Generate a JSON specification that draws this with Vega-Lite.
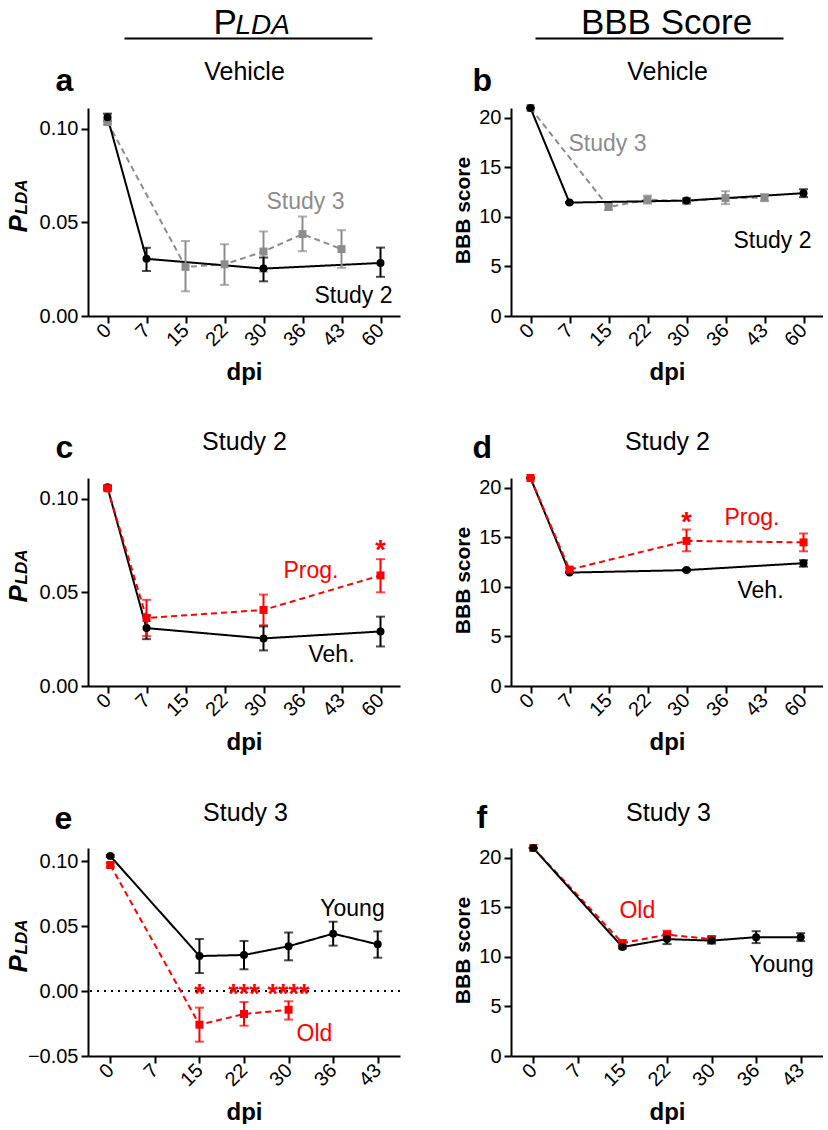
{
"$schema": "https://vega.github.io/schema/vega-lite/v6.json",
"background": "white",
"padding": {"left": 5, "top": 5, "right": 0, "bottom": 0},
"config": {
  "font": "Liberation Sans",
  "view": {"stroke": null},
  "axis": {"grid": false, "domainColor": "#000000", "domainWidth": 2, "tickColor": "#000000", "tickWidth": 2, "tickSize": 7, "labelFont": "Liberation Sans", "labelFontSize": 20, "labelColor": "#000000", "titleFont": "Liberation Sans", "titleColor": "#000000", "labelPadding": 3}
},
"datasets": {
  "a": [
    {"series": "Study 3", "dpi": 0, "mean": 0.1035, "lo": 0.1025, "hi": 0.1045},
    {"series": "Study 3", "dpi": 15, "mean": 0.0262, "lo": 0.0132, "hi": 0.0400},
    {"series": "Study 3", "dpi": 22, "mean": 0.0276, "lo": 0.0166, "hi": 0.0383},
    {"series": "Study 3", "dpi": 30, "mean": 0.0344, "lo": 0.0237, "hi": 0.0451},
    {"series": "Study 3", "dpi": 36, "mean": 0.0437, "lo": 0.0346, "hi": 0.0531},
    {"series": "Study 3", "dpi": 43, "mean": 0.0357, "lo": 0.0257, "hi": 0.0458},
    {"series": "Study 2", "dpi": 0, "mean": 0.106, "lo": 0.104, "hi": 0.108},
    {"series": "Study 2", "dpi": 7, "mean": 0.0305, "lo": 0.024, "hi": 0.0364},
    {"series": "Study 2", "dpi": 30, "mean": 0.0253, "lo": 0.0185, "hi": 0.0312},
    {"series": "Study 2", "dpi": 60, "mean": 0.0283, "lo": 0.0209, "hi": 0.0365}
  ],
  "b": [
    {"series": "Study 3", "dpi": 0, "mean": 21.0, "lo": 21.0, "hi": 21.0},
    {"series": "Study 3", "dpi": 15, "mean": 11.0, "lo": 10.7, "hi": 11.3},
    {"series": "Study 3", "dpi": 22, "mean": 11.75, "lo": 11.35, "hi": 12.15},
    {"series": "Study 3", "dpi": 30, "mean": 11.6, "lo": 11.35, "hi": 11.85},
    {"series": "Study 3", "dpi": 36, "mean": 11.9, "lo": 11.3, "hi": 12.6},
    {"series": "Study 3", "dpi": 43, "mean": 11.95, "lo": 11.6, "hi": 12.3},
    {"series": "Study 2", "dpi": 0, "mean": 21.0, "lo": 21.0, "hi": 21.0},
    {"series": "Study 2", "dpi": 7, "mean": 11.45, "lo": 11.4, "hi": 11.5},
    {"series": "Study 2", "dpi": 30, "mean": 11.65, "lo": 11.45, "hi": 11.85},
    {"series": "Study 2", "dpi": 60, "mean": 12.4, "lo": 12.0, "hi": 12.8}
  ],
  "c": [
    {"series": "Veh", "dpi": 0, "mean": 0.106, "lo": 0.105, "hi": 0.107},
    {"series": "Veh", "dpi": 7, "mean": 0.0309, "lo": 0.025, "hi": 0.0376},
    {"series": "Veh", "dpi": 30, "mean": 0.0254, "lo": 0.019, "hi": 0.0318},
    {"series": "Veh", "dpi": 60, "mean": 0.0291, "lo": 0.0211, "hi": 0.037},
    {"series": "Prog", "dpi": 0, "mean": 0.1055, "lo": 0.1045, "hi": 0.1065},
    {"series": "Prog", "dpi": 7, "mean": 0.0363, "lo": 0.0266, "hi": 0.046},
    {"series": "Prog", "dpi": 30, "mean": 0.0406, "lo": 0.0324, "hi": 0.0488},
    {"series": "Prog", "dpi": 60, "mean": 0.059, "lo": 0.050, "hi": 0.0677}
  ],
  "d": [
    {"series": "Veh", "dpi": 0, "mean": 21.0, "lo": 21.0, "hi": 21.0},
    {"series": "Veh", "dpi": 7, "mean": 11.45, "lo": 11.4, "hi": 11.5},
    {"series": "Veh", "dpi": 30, "mean": 11.7, "lo": 11.6, "hi": 11.8},
    {"series": "Veh", "dpi": 60, "mean": 12.4, "lo": 12.05, "hi": 12.7},
    {"series": "Prog", "dpi": 0, "mean": 21.0, "lo": 21.0, "hi": 21.0},
    {"series": "Prog", "dpi": 7, "mean": 11.75, "lo": 11.55, "hi": 11.95},
    {"series": "Prog", "dpi": 30, "mean": 14.65, "lo": 13.6, "hi": 15.8},
    {"series": "Prog", "dpi": 60, "mean": 14.5, "lo": 13.6, "hi": 15.4}
  ],
  "e": [
    {"series": "Young", "dpi": 0, "mean": 0.1038, "lo": 0.1030, "hi": 0.1046},
    {"series": "Young", "dpi": 15, "mean": 0.0269, "lo": 0.0138, "hi": 0.040},
    {"series": "Young", "dpi": 22, "mean": 0.0277, "lo": 0.0167, "hi": 0.0385},
    {"series": "Young", "dpi": 30, "mean": 0.0344, "lo": 0.0236, "hi": 0.045},
    {"series": "Young", "dpi": 36, "mean": 0.0441, "lo": 0.0349, "hi": 0.0533},
    {"series": "Young", "dpi": 43, "mean": 0.0359, "lo": 0.0256, "hi": 0.0459},
    {"series": "Old", "dpi": 0, "mean": 0.0969, "lo": 0.0955, "hi": 0.0983},
    {"series": "Old", "dpi": 15, "mean": -0.0259, "lo": -0.039, "hi": -0.0128},
    {"series": "Old", "dpi": 22, "mean": -0.0177, "lo": -0.0267, "hi": -0.0085},
    {"series": "Old", "dpi": 30, "mean": -0.0144, "lo": -0.022, "hi": -0.0079}
  ],
  "f": [
    {"series": "Old", "dpi": 0, "mean": 21.0, "lo": 21.0, "hi": 21.0},
    {"series": "Old", "dpi": 15, "mean": 11.4, "lo": 11.1, "hi": 11.7},
    {"series": "Old", "dpi": 22, "mean": 12.25, "lo": 11.85, "hi": 12.65},
    {"series": "Old", "dpi": 30, "mean": 11.8, "lo": 11.5, "hi": 12.1},
    {"series": "Young", "dpi": 0, "mean": 21.0, "lo": 21.0, "hi": 21.0},
    {"series": "Young", "dpi": 15, "mean": 11.0, "lo": 10.85, "hi": 11.15},
    {"series": "Young", "dpi": 22, "mean": 11.8, "lo": 11.3, "hi": 12.3},
    {"series": "Young", "dpi": 30, "mean": 11.65, "lo": 11.35, "hi": 11.95},
    {"series": "Young", "dpi": 36, "mean": 12.0, "lo": 11.4, "hi": 12.6},
    {"series": "Young", "dpi": 43, "mean": 12.0, "lo": 11.6, "hi": 12.4}
  ],
  "aA": [
    {"series": "Study 3", "dpi": 36, "v": 0.0572, "label": "Study 3"},
    {"series": "Study 2", "dpi": 60, "v": 0.007, "label": "Study 2"}
  ],
  "bA": [
    {"series": "Study 3", "dpi": 15, "v": 16.7, "label": "Study 3"},
    {"series": "Study 2", "dpi": 60, "v": 6.9, "label": "Study 2"}
  ],
  "cA": [
    {"series": "Prog", "dpi": 43, "v": 0.0574, "label": "Prog."},
    {"series": "Veh", "dpi": 43, "v": 0.0128, "label": "Veh."},
    {"series": "Prog", "dpi": 60, "v": 0.068, "label": "*"}
  ],
  "dA": [
    {"series": "Prog", "dpi": 36, "v": 16.3, "label": "Prog."},
    {"series": "Veh", "dpi": 43, "v": 8.9, "label": "Veh."},
    {"series": "Prog", "dpi": 30, "v": 15.6, "label": "*"}
  ],
  "eA": [
    {"series": "Young", "dpi": 43, "v": 0.0577, "label": "Young"},
    {"series": "Old", "dpi": 30, "v": -0.0385, "label": "Old"},
    {"series": "Old", "dpi": 15, "v": -0.0092, "label": "*"},
    {"series": "Old", "dpi": 22, "v": -0.0092, "label": "***"},
    {"series": "Old", "dpi": 30, "v": -0.0092, "label": "****"}
  ],
  "fA": [
    {"series": "Old", "dpi": 15, "v": 13.9, "label": "Old"},
    {"series": "Young", "dpi": 43, "v": 8.5, "label": "Young"}
  ]
},
"columns": 2,
"bounds": "flush",
"spacing": {"row": 162, "column": 111},
"concat": [
{
  "width": 312, "height": 208,
  "layer": [
    {"data": {"name": "a"}, "mark": {"type": "line", "strokeWidth": 2},
     "encoding": {
       "x": {"field": "dpi", "type": "ordinal", "scale": {"type": "point", "domain": [0,7,15,22,30,36,43,60], "padding": 0.5},
             "axis": {"orient": "bottom", "labelAngle": -45, "labelAlign": "right", "labelBaseline": "middle", "labelPadding": 4, "labelOverlap": false, "title": "dpi", "titleFontSize": 24, "titleFontWeight": "bold", "titleX": 156, "titleY": 63, "titleAlign": "center", "titleBaseline": "alphabetic", "titleAngle": 0}},
       "y": {"field": "mean", "type": "quantitative", "scale": {"domain": [0, 0.111], "nice": false, "zero": false},
             "axis": {"orient": "left", "values": [0, 0.05, 0.1], "format": ".2f", "title": "P", "titleFontSize": 26, "titleFontStyle": "italic", "titleFontWeight": "bold", "titleX": -62, "titleY": 124, "titleAngle": 270, "titleAlign": "left", "titleBaseline": "alphabetic"}},
       "detail": {"field": "series"},
       "color": {"condition": [{"test": "datum.series==='Study 3'", "value": "#8c8c8c"}, {"test": "datum.series==='Prog'||datum.series==='Old'", "value": "#ff0000"}], "value": "#000000"},
       "strokeDash": {"condition": {"test": "datum.series==='Study 3'||datum.series==='Prog'||datum.series==='Old'", "value": [6, 4]}, "value": [1, 0]}
     }},
    {"data": {"name": "a"}, "mark": {"type": "rule", "strokeWidth": 2},
     "encoding": {
       "x": {"field": "dpi", "type": "ordinal", "scale": {"type": "point", "domain": [0,7,15,22,30,36,43,60], "padding": 0.5},
             "axis": {"orient": "top", "domain": false, "ticks": false, "labels": false, "grid": false, "title": "Vehicle", "titleFontSize": 25, "titleFontWeight": "normal", "titleX": 156, "titleY": -29, "titleAlign": "center", "titleBaseline": "alphabetic", "titleAngle": 0}},
       "y": {"field": "lo", "type": "quantitative", "scale": {"domain": [0, 0.111], "nice": false, "zero": false}, "axis": null},
       "y2": {"field": "hi"},
       "color": {"condition": [{"test": "datum.series==='Study 3'", "value": "#8c8c8c"}, {"test": "datum.series==='Prog'||datum.series==='Old'", "value": "#ff0000"}], "value": "#000000"}
     }},
    {"data": {"name": "a"}, "mark": {"type": "tick", "thickness": 2, "size": 9},
     "encoding": {
       "x": {"field": "dpi", "type": "ordinal", "scale": {"type": "point", "domain": [0,7,15,22,30,36,43,60], "padding": 0.5}, "axis": null},
       "y": {"field": "lo", "type": "quantitative", "scale": {"domain": [0, 0.111], "nice": false, "zero": false}, "axis": null},
       "color": {"condition": [{"test": "datum.series==='Study 3'", "value": "#8c8c8c"}, {"test": "datum.series==='Prog'||datum.series==='Old'", "value": "#ff0000"}], "value": "#000000"}
     }},
    {"data": {"name": "a"}, "mark": {"type": "tick", "thickness": 2, "size": 9},
     "encoding": {
       "x": {"field": "dpi", "type": "ordinal", "scale": {"type": "point", "domain": [0,7,15,22,30,36,43,60], "padding": 0.5}, "axis": null},
       "y": {"field": "hi", "type": "quantitative", "scale": {"domain": [0, 0.111], "nice": false, "zero": false}, "axis": null},
       "color": {"condition": [{"test": "datum.series==='Study 3'", "value": "#8c8c8c"}, {"test": "datum.series==='Prog'||datum.series==='Old'", "value": "#ff0000"}], "value": "#000000"}
     }},
    {"data": {"name": "a"}, "mark": {"type": "point", "filled": true, "size": 64, "opacity": 1},
     "encoding": {
       "x": {"field": "dpi", "type": "ordinal", "scale": {"type": "point", "domain": [0,7,15,22,30,36,43,60], "padding": 0.5}, "axis": null},
       "y": {"field": "mean", "type": "quantitative", "scale": {"domain": [0, 0.111], "nice": false, "zero": false}, "axis": null},
       "color": {"condition": [{"test": "datum.series==='Study 3'", "value": "#8c8c8c"}, {"test": "datum.series==='Prog'||datum.series==='Old'", "value": "#ff0000"}], "value": "#000000"},
       "shape": {"condition": {"test": "datum.series==='Study 2'||datum.series==='Veh'||datum.series==='Young'", "value": "circle"}, "value": "square"}
     }},
    {"data": {"name": "aA"}, "transform": [{"filter": {"field": "label", "equal": "Study 3"}}],
     "mark": {"type": "text", "fontSize": 23, "align": "center", "baseline": "alphabetic", "dx": 3},
     "encoding": {
       "x": {"field": "dpi", "type": "ordinal", "scale": {"type": "point", "domain": [0,7,15,22,30,36,43,60], "padding": 0.5},
             "axis": {"orient": "top", "offset": 70, "domain": true, "domainDash": [0, 36, 248, 2000], "domainWidth": 2, "ticks": false, "labels": false, "grid": false, "title": "P", "titleFontSize": 35, "titleFontWeight": "normal", "titleX": 125, "titleY": -5, "titleAlign": "left", "titleBaseline": "alphabetic", "titleAngle": 0}},
       "y": {"field": "v", "type": "quantitative", "scale": {"domain": [0, 0.111], "nice": false, "zero": false},
             "axis": {"orient": "right", "domain": false, "ticks": false, "labels": false, "grid": false, "title": "a", "titleFontSize": 32, "titleFontWeight": "bold", "titleX": -345, "titleY": -18, "titleAlign": "left", "titleBaseline": "alphabetic", "titleAngle": 0}},
       "text": {"field": "label"},
       "color": {"condition": [{"test": "datum.series==='Study 3'", "value": "#8c8c8c"}, {"test": "datum.series==='Prog'||datum.series==='Old'", "value": "#ff0000"}], "value": "#000000"}
     }},
    {"data": {"name": "aA"}, "transform": [{"filter": {"field": "label", "equal": "Study 2"}}],
     "mark": {"type": "text", "fontSize": 23, "align": "right", "baseline": "alphabetic", "dx": 12},
     "encoding": {
       "x": {"field": "dpi", "type": "ordinal", "scale": {"type": "point", "domain": [0,7,15,22,30,36,43,60], "padding": 0.5},
             "axis": {"orient": "top", "domain": false, "ticks": false, "labels": false, "grid": false, "title": "LDA", "titleFontSize": 28, "titleFontStyle": "italic", "titleFontWeight": "normal", "titleX": 147, "titleY": -75, "titleAlign": "left", "titleBaseline": "alphabetic", "titleAngle": 0}},
       "y": {"field": "v", "type": "quantitative", "scale": {"domain": [0, 0.111], "nice": false, "zero": false},
             "axis": {"orient": "right", "domain": false, "ticks": false, "labels": false, "grid": false, "title": "LDA", "titleFontSize": 17, "titleFontStyle": "italic", "titleFontWeight": "bold", "titleX": -374, "titleY": 106, "titleAngle": 270, "titleAlign": "left", "titleBaseline": "alphabetic"}},
       "text": {"field": "label"},
       "color": {"condition": [{"test": "datum.series==='Study 3'", "value": "#8c8c8c"}, {"test": "datum.series==='Prog'||datum.series==='Old'", "value": "#ff0000"}], "value": "#000000"}
     }}
  ]
},
{
  "width": 312, "height": 208,
  "layer": [
    {"data": {"name": "b"}, "mark": {"type": "line", "strokeWidth": 2},
     "encoding": {
       "x": {"field": "dpi", "type": "ordinal", "scale": {"type": "point", "domain": [0,7,15,22,30,36,43,60], "padding": 0.5},
             "axis": {"orient": "bottom", "labelAngle": -45, "labelAlign": "right", "labelBaseline": "middle", "labelPadding": 4, "labelOverlap": false, "title": "dpi", "titleFontSize": 24, "titleFontWeight": "bold", "titleX": 156, "titleY": 63, "titleAlign": "center", "titleBaseline": "alphabetic", "titleAngle": 0}},
       "y": {"field": "mean", "type": "quantitative", "scale": {"domain": [0, 21], "nice": false, "zero": false},
             "axis": {"orient": "left", "values": [0, 5, 10, 15, 20], "title": "BBB score", "titleFontSize": 21, "titleFontWeight": "bold", "titleX": -42, "titleY": 102, "titleAngle": 270, "titleAlign": "center", "titleBaseline": "alphabetic"}},
       "detail": {"field": "series"},
       "color": {"condition": [{"test": "datum.series==='Study 3'", "value": "#8c8c8c"}, {"test": "datum.series==='Prog'||datum.series==='Old'", "value": "#ff0000"}], "value": "#000000"},
       "strokeDash": {"condition": {"test": "datum.series==='Study 3'||datum.series==='Prog'||datum.series==='Old'", "value": [6, 4]}, "value": [1, 0]}
     }},
    {"data": {"name": "b"}, "mark": {"type": "rule", "strokeWidth": 2},
     "encoding": {
       "x": {"field": "dpi", "type": "ordinal", "scale": {"type": "point", "domain": [0,7,15,22,30,36,43,60], "padding": 0.5},
             "axis": {"orient": "top", "domain": false, "ticks": false, "labels": false, "grid": false, "title": "Vehicle", "titleFontSize": 25, "titleFontWeight": "normal", "titleX": 156, "titleY": -29, "titleAlign": "center", "titleBaseline": "alphabetic", "titleAngle": 0}},
       "y": {"field": "lo", "type": "quantitative", "scale": {"domain": [0, 21], "nice": false, "zero": false}, "axis": null},
       "y2": {"field": "hi"},
       "color": {"condition": [{"test": "datum.series==='Study 3'", "value": "#8c8c8c"}, {"test": "datum.series==='Prog'||datum.series==='Old'", "value": "#ff0000"}], "value": "#000000"}
     }},
    {"data": {"name": "b"}, "mark": {"type": "tick", "thickness": 2, "size": 9},
     "encoding": {
       "x": {"field": "dpi", "type": "ordinal", "scale": {"type": "point", "domain": [0,7,15,22,30,36,43,60], "padding": 0.5}, "axis": null},
       "y": {"field": "lo", "type": "quantitative", "scale": {"domain": [0, 21], "nice": false, "zero": false}, "axis": null},
       "color": {"condition": [{"test": "datum.series==='Study 3'", "value": "#8c8c8c"}, {"test": "datum.series==='Prog'||datum.series==='Old'", "value": "#ff0000"}], "value": "#000000"}
     }},
    {"data": {"name": "b"}, "mark": {"type": "tick", "thickness": 2, "size": 9},
     "encoding": {
       "x": {"field": "dpi", "type": "ordinal", "scale": {"type": "point", "domain": [0,7,15,22,30,36,43,60], "padding": 0.5}, "axis": null},
       "y": {"field": "hi", "type": "quantitative", "scale": {"domain": [0, 21], "nice": false, "zero": false}, "axis": null},
       "color": {"condition": [{"test": "datum.series==='Study 3'", "value": "#8c8c8c"}, {"test": "datum.series==='Prog'||datum.series==='Old'", "value": "#ff0000"}], "value": "#000000"}
     }},
    {"data": {"name": "b"}, "mark": {"type": "point", "filled": true, "size": 64, "opacity": 1},
     "encoding": {
       "x": {"field": "dpi", "type": "ordinal", "scale": {"type": "point", "domain": [0,7,15,22,30,36,43,60], "padding": 0.5}, "axis": null},
       "y": {"field": "mean", "type": "quantitative", "scale": {"domain": [0, 21], "nice": false, "zero": false}, "axis": null},
       "color": {"condition": [{"test": "datum.series==='Study 3'", "value": "#8c8c8c"}, {"test": "datum.series==='Prog'||datum.series==='Old'", "value": "#ff0000"}], "value": "#000000"},
       "shape": {"condition": {"test": "datum.series==='Study 2'||datum.series==='Veh'||datum.series==='Young'", "value": "circle"}, "value": "square"}
     }},
    {"data": {"name": "bA"}, "transform": [{"filter": {"field": "label", "equal": "Study 3"}}],
     "mark": {"type": "text", "fontSize": 23, "align": "center", "baseline": "alphabetic", "dx": -1},
     "encoding": {
       "x": {"field": "dpi", "type": "ordinal", "scale": {"type": "point", "domain": [0,7,15,22,30,36,43,60], "padding": 0.5},
             "axis": {"orient": "top", "offset": 70, "domain": true, "domainDash": [0, 24, 248, 2000], "domainWidth": 2, "ticks": false, "labels": false, "grid": false, "title": "BBB Score", "titleFontSize": 35, "titleFontWeight": "normal", "titleX": 155, "titleY": -5, "titleAlign": "center", "titleBaseline": "alphabetic", "titleAngle": 0}},
       "y": {"field": "v", "type": "quantitative", "scale": {"domain": [0, 21], "nice": false, "zero": false},
             "axis": {"orient": "right", "domain": false, "ticks": false, "labels": false, "grid": false, "title": "b", "titleFontSize": 32, "titleFontWeight": "bold", "titleX": -351, "titleY": -18, "titleAlign": "left", "titleBaseline": "alphabetic", "titleAngle": 0}},
       "text": {"field": "label"},
       "color": {"condition": [{"test": "datum.series==='Study 3'", "value": "#8c8c8c"}, {"test": "datum.series==='Prog'||datum.series==='Old'", "value": "#ff0000"}], "value": "#000000"}
     }},
    {"data": {"name": "bA"}, "transform": [{"filter": {"field": "label", "equal": "Study 2"}}],
     "mark": {"type": "text", "fontSize": 23, "align": "right", "baseline": "alphabetic", "dx": 8},
     "encoding": {
       "x": {"field": "dpi", "type": "ordinal", "scale": {"type": "point", "domain": [0,7,15,22,30,36,43,60], "padding": 0.5}, "axis": null},
       "y": {"field": "v", "type": "quantitative", "scale": {"domain": [0, 21], "nice": false, "zero": false}, "axis": null},
       "text": {"field": "label"},
       "color": {"condition": [{"test": "datum.series==='Study 3'", "value": "#8c8c8c"}, {"test": "datum.series==='Prog'||datum.series==='Old'", "value": "#ff0000"}], "value": "#000000"}
     }}
  ]
},
{
  "width": 312, "height": 208,
  "layer": [
    {"data": {"name": "c"}, "mark": {"type": "line", "strokeWidth": 2},
     "encoding": {
       "x": {"field": "dpi", "type": "ordinal", "scale": {"type": "point", "domain": [0,7,15,22,30,36,43,60], "padding": 0.5},
             "axis": {"orient": "bottom", "labelAngle": -45, "labelAlign": "right", "labelBaseline": "middle", "labelPadding": 4, "labelOverlap": false, "title": "dpi", "titleFontSize": 24, "titleFontWeight": "bold", "titleX": 156, "titleY": 63, "titleAlign": "center", "titleBaseline": "alphabetic", "titleAngle": 0}},
       "y": {"field": "mean", "type": "quantitative", "scale": {"domain": [0, 0.111], "nice": false, "zero": false},
             "axis": {"orient": "left", "values": [0, 0.05, 0.1], "format": ".2f", "title": "P", "titleFontSize": 26, "titleFontStyle": "italic", "titleFontWeight": "bold", "titleX": -62, "titleY": 124, "titleAngle": 270, "titleAlign": "left", "titleBaseline": "alphabetic"}},
       "detail": {"field": "series"},
       "color": {"condition": [{"test": "datum.series==='Study 3'", "value": "#8c8c8c"}, {"test": "datum.series==='Prog'||datum.series==='Old'", "value": "#ff0000"}], "value": "#000000"},
       "strokeDash": {"condition": {"test": "datum.series==='Study 3'||datum.series==='Prog'||datum.series==='Old'", "value": [6, 4]}, "value": [1, 0]}
     }},
    {"data": {"name": "c"}, "mark": {"type": "rule", "strokeWidth": 2},
     "encoding": {
       "x": {"field": "dpi", "type": "ordinal", "scale": {"type": "point", "domain": [0,7,15,22,30,36,43,60], "padding": 0.5},
             "axis": {"orient": "top", "domain": false, "ticks": false, "labels": false, "grid": false, "title": "Study 2", "titleFontSize": 25, "titleFontWeight": "normal", "titleX": 156, "titleY": -29, "titleAlign": "center", "titleBaseline": "alphabetic", "titleAngle": 0}},
       "y": {"field": "lo", "type": "quantitative", "scale": {"domain": [0, 0.111], "nice": false, "zero": false}, "axis": null},
       "y2": {"field": "hi"},
       "color": {"condition": [{"test": "datum.series==='Study 3'", "value": "#8c8c8c"}, {"test": "datum.series==='Prog'||datum.series==='Old'", "value": "#ff0000"}], "value": "#000000"}
     }},
    {"data": {"name": "c"}, "mark": {"type": "tick", "thickness": 2, "size": 9},
     "encoding": {
       "x": {"field": "dpi", "type": "ordinal", "scale": {"type": "point", "domain": [0,7,15,22,30,36,43,60], "padding": 0.5}, "axis": null},
       "y": {"field": "lo", "type": "quantitative", "scale": {"domain": [0, 0.111], "nice": false, "zero": false}, "axis": null},
       "color": {"condition": [{"test": "datum.series==='Study 3'", "value": "#8c8c8c"}, {"test": "datum.series==='Prog'||datum.series==='Old'", "value": "#ff0000"}], "value": "#000000"}
     }},
    {"data": {"name": "c"}, "mark": {"type": "tick", "thickness": 2, "size": 9},
     "encoding": {
       "x": {"field": "dpi", "type": "ordinal", "scale": {"type": "point", "domain": [0,7,15,22,30,36,43,60], "padding": 0.5}, "axis": null},
       "y": {"field": "hi", "type": "quantitative", "scale": {"domain": [0, 0.111], "nice": false, "zero": false}, "axis": null},
       "color": {"condition": [{"test": "datum.series==='Study 3'", "value": "#8c8c8c"}, {"test": "datum.series==='Prog'||datum.series==='Old'", "value": "#ff0000"}], "value": "#000000"}
     }},
    {"data": {"name": "c"}, "mark": {"type": "point", "filled": true, "size": 64, "opacity": 1},
     "encoding": {
       "x": {"field": "dpi", "type": "ordinal", "scale": {"type": "point", "domain": [0,7,15,22,30,36,43,60], "padding": 0.5}, "axis": null},
       "y": {"field": "mean", "type": "quantitative", "scale": {"domain": [0, 0.111], "nice": false, "zero": false}, "axis": null},
       "color": {"condition": [{"test": "datum.series==='Study 3'", "value": "#8c8c8c"}, {"test": "datum.series==='Prog'||datum.series==='Old'", "value": "#ff0000"}], "value": "#000000"},
       "shape": {"condition": {"test": "datum.series==='Study 2'||datum.series==='Veh'||datum.series==='Young'", "value": "circle"}, "value": "square"}
     }},
    {"data": {"name": "cA"}, "transform": [{"filter": {"field": "label", "equal": "Prog."}}],
     "mark": {"type": "text", "fontSize": 23, "align": "right", "baseline": "alphabetic", "dx": -3},
     "encoding": {
       "x": {"field": "dpi", "type": "ordinal", "scale": {"type": "point", "domain": [0,7,15,22,30,36,43,60], "padding": 0.5}, "axis": null},
       "y": {"field": "v", "type": "quantitative", "scale": {"domain": [0, 0.111], "nice": false, "zero": false},
             "axis": {"orient": "right", "domain": false, "ticks": false, "labels": false, "grid": false, "title": "c", "titleFontSize": 32, "titleFontWeight": "bold", "titleX": -345, "titleY": -21, "titleAlign": "left", "titleBaseline": "alphabetic", "titleAngle": 0}},
       "text": {"field": "label"},
       "color": {"condition": [{"test": "datum.series==='Study 3'", "value": "#8c8c8c"}, {"test": "datum.series==='Prog'||datum.series==='Old'", "value": "#ff0000"}], "value": "#000000"}
     }},
    {"data": {"name": "cA"}, "transform": [{"filter": {"field": "label", "equal": "Veh."}}],
     "mark": {"type": "text", "fontSize": 23, "align": "center", "baseline": "alphabetic", "dx": -10},
     "encoding": {
       "x": {"field": "dpi", "type": "ordinal", "scale": {"type": "point", "domain": [0,7,15,22,30,36,43,60], "padding": 0.5}, "axis": null},
       "y": {"field": "v", "type": "quantitative", "scale": {"domain": [0, 0.111], "nice": false, "zero": false},
             "axis": {"orient": "right", "domain": false, "ticks": false, "labels": false, "grid": false, "title": "LDA", "titleFontSize": 17, "titleFontStyle": "italic", "titleFontWeight": "bold", "titleX": -374, "titleY": 106, "titleAngle": 270, "titleAlign": "left", "titleBaseline": "alphabetic"}},
       "text": {"field": "label"},
       "color": {"condition": [{"test": "datum.series==='Study 3'", "value": "#8c8c8c"}, {"test": "datum.series==='Prog'||datum.series==='Old'", "value": "#ff0000"}], "value": "#000000"}
     }},
    {"data": {"name": "cA"}, "transform": [{"filter": {"field": "label", "equal": "*"}}],
     "mark": {"type": "text", "fontSize": 27, "fontWeight": "bold", "align": "center", "baseline": "alphabetic"},
     "encoding": {
       "x": {"field": "dpi", "type": "ordinal", "scale": {"type": "point", "domain": [0,7,15,22,30,36,43,60], "padding": 0.5}, "axis": null},
       "y": {"field": "v", "type": "quantitative", "scale": {"domain": [0, 0.111], "nice": false, "zero": false}, "axis": null},
       "text": {"field": "label"},
       "color": {"condition": [{"test": "datum.series==='Study 3'", "value": "#8c8c8c"}, {"test": "datum.series==='Prog'||datum.series==='Old'", "value": "#ff0000"}], "value": "#000000"}
     }}
  ]
},
{
  "width": 312, "height": 208,
  "layer": [
    {"data": {"name": "d"}, "mark": {"type": "line", "strokeWidth": 2},
     "encoding": {
       "x": {"field": "dpi", "type": "ordinal", "scale": {"type": "point", "domain": [0,7,15,22,30,36,43,60], "padding": 0.5},
             "axis": {"orient": "bottom", "labelAngle": -45, "labelAlign": "right", "labelBaseline": "middle", "labelPadding": 4, "labelOverlap": false, "title": "dpi", "titleFontSize": 24, "titleFontWeight": "bold", "titleX": 156, "titleY": 63, "titleAlign": "center", "titleBaseline": "alphabetic", "titleAngle": 0}},
       "y": {"field": "mean", "type": "quantitative", "scale": {"domain": [0, 21], "nice": false, "zero": false},
             "axis": {"orient": "left", "values": [0, 5, 10, 15, 20], "title": "BBB score", "titleFontSize": 21, "titleFontWeight": "bold", "titleX": -42, "titleY": 102, "titleAngle": 270, "titleAlign": "center", "titleBaseline": "alphabetic"}},
       "detail": {"field": "series"},
       "color": {"condition": [{"test": "datum.series==='Study 3'", "value": "#8c8c8c"}, {"test": "datum.series==='Prog'||datum.series==='Old'", "value": "#ff0000"}], "value": "#000000"},
       "strokeDash": {"condition": {"test": "datum.series==='Study 3'||datum.series==='Prog'||datum.series==='Old'", "value": [6, 4]}, "value": [1, 0]}
     }},
    {"data": {"name": "d"}, "mark": {"type": "rule", "strokeWidth": 2},
     "encoding": {
       "x": {"field": "dpi", "type": "ordinal", "scale": {"type": "point", "domain": [0,7,15,22,30,36,43,60], "padding": 0.5},
             "axis": {"orient": "top", "domain": false, "ticks": false, "labels": false, "grid": false, "title": "Study 2", "titleFontSize": 25, "titleFontWeight": "normal", "titleX": 156, "titleY": -29, "titleAlign": "center", "titleBaseline": "alphabetic", "titleAngle": 0}},
       "y": {"field": "lo", "type": "quantitative", "scale": {"domain": [0, 21], "nice": false, "zero": false}, "axis": null},
       "y2": {"field": "hi"},
       "color": {"condition": [{"test": "datum.series==='Study 3'", "value": "#8c8c8c"}, {"test": "datum.series==='Prog'||datum.series==='Old'", "value": "#ff0000"}], "value": "#000000"}
     }},
    {"data": {"name": "d"}, "mark": {"type": "tick", "thickness": 2, "size": 9},
     "encoding": {
       "x": {"field": "dpi", "type": "ordinal", "scale": {"type": "point", "domain": [0,7,15,22,30,36,43,60], "padding": 0.5}, "axis": null},
       "y": {"field": "lo", "type": "quantitative", "scale": {"domain": [0, 21], "nice": false, "zero": false}, "axis": null},
       "color": {"condition": [{"test": "datum.series==='Study 3'", "value": "#8c8c8c"}, {"test": "datum.series==='Prog'||datum.series==='Old'", "value": "#ff0000"}], "value": "#000000"}
     }},
    {"data": {"name": "d"}, "mark": {"type": "tick", "thickness": 2, "size": 9},
     "encoding": {
       "x": {"field": "dpi", "type": "ordinal", "scale": {"type": "point", "domain": [0,7,15,22,30,36,43,60], "padding": 0.5}, "axis": null},
       "y": {"field": "hi", "type": "quantitative", "scale": {"domain": [0, 21], "nice": false, "zero": false}, "axis": null},
       "color": {"condition": [{"test": "datum.series==='Study 3'", "value": "#8c8c8c"}, {"test": "datum.series==='Prog'||datum.series==='Old'", "value": "#ff0000"}], "value": "#000000"}
     }},
    {"data": {"name": "d"}, "mark": {"type": "point", "filled": true, "size": 64, "opacity": 1},
     "encoding": {
       "x": {"field": "dpi", "type": "ordinal", "scale": {"type": "point", "domain": [0,7,15,22,30,36,43,60], "padding": 0.5}, "axis": null},
       "y": {"field": "mean", "type": "quantitative", "scale": {"domain": [0, 21], "nice": false, "zero": false}, "axis": null},
       "color": {"condition": [{"test": "datum.series==='Study 3'", "value": "#8c8c8c"}, {"test": "datum.series==='Prog'||datum.series==='Old'", "value": "#ff0000"}], "value": "#000000"},
       "shape": {"condition": {"test": "datum.series==='Study 2'||datum.series==='Veh'||datum.series==='Young'", "value": "circle"}, "value": "square"}
     }},
    {"data": {"name": "dA"}, "transform": [{"filter": {"field": "label", "equal": "Prog."}}],
     "mark": {"type": "text", "fontSize": 23, "align": "left", "baseline": "alphabetic", "dx": -1},
     "encoding": {
       "x": {"field": "dpi", "type": "ordinal", "scale": {"type": "point", "domain": [0,7,15,22,30,36,43,60], "padding": 0.5}, "axis": null},
       "y": {"field": "v", "type": "quantitative", "scale": {"domain": [0, 21], "nice": false, "zero": false},
             "axis": {"orient": "right", "domain": false, "ticks": false, "labels": false, "grid": false, "title": "d", "titleFontSize": 32, "titleFontWeight": "bold", "titleX": -351, "titleY": -21, "titleAlign": "left", "titleBaseline": "alphabetic", "titleAngle": 0}},
       "text": {"field": "label"},
       "color": {"condition": [{"test": "datum.series==='Study 3'", "value": "#8c8c8c"}, {"test": "datum.series==='Prog'||datum.series==='Old'", "value": "#ff0000"}], "value": "#000000"}
     }},
    {"data": {"name": "dA"}, "transform": [{"filter": {"field": "label", "equal": "Veh."}}],
     "mark": {"type": "text", "fontSize": 23, "align": "center", "baseline": "alphabetic", "dx": -4},
     "encoding": {
       "x": {"field": "dpi", "type": "ordinal", "scale": {"type": "point", "domain": [0,7,15,22,30,36,43,60], "padding": 0.5}, "axis": null},
       "y": {"field": "v", "type": "quantitative", "scale": {"domain": [0, 21], "nice": false, "zero": false}, "axis": null},
       "text": {"field": "label"},
       "color": {"condition": [{"test": "datum.series==='Study 3'", "value": "#8c8c8c"}, {"test": "datum.series==='Prog'||datum.series==='Old'", "value": "#ff0000"}], "value": "#000000"}
     }},
    {"data": {"name": "dA"}, "transform": [{"filter": {"field": "label", "equal": "*"}}],
     "mark": {"type": "text", "fontSize": 27, "fontWeight": "bold", "align": "center", "baseline": "alphabetic"},
     "encoding": {
       "x": {"field": "dpi", "type": "ordinal", "scale": {"type": "point", "domain": [0,7,15,22,30,36,43,60], "padding": 0.5}, "axis": null},
       "y": {"field": "v", "type": "quantitative", "scale": {"domain": [0, 21], "nice": false, "zero": false}, "axis": null},
       "text": {"field": "label"},
       "color": {"condition": [{"test": "datum.series==='Study 3'", "value": "#8c8c8c"}, {"test": "datum.series==='Prog'||datum.series==='Old'", "value": "#ff0000"}], "value": "#000000"}
     }}
  ]
},
{
  "width": 312, "height": 208,
  "layer": [
    {"data": {"values": [{}]}, "mark": {"type": "rule", "strokeDash": [2, 5], "strokeWidth": 2, "color": "#000000"},
     "encoding": {
       "y": {"datum": 0, "type": "quantitative", "scale": {"domain": [-0.05, 0.11], "nice": false, "zero": false}, "axis": null}
     }},
    {"data": {"name": "e"}, "mark": {"type": "line", "strokeWidth": 2},
     "encoding": {
       "x": {"field": "dpi", "type": "ordinal", "scale": {"type": "point", "domain": [0,7,15,22,30,36,43], "padding": 0.5},
             "axis": {"orient": "bottom", "labelAngle": -45, "labelAlign": "right", "labelBaseline": "middle", "labelPadding": 4, "labelOverlap": false, "title": "dpi", "titleFontSize": 24, "titleFontWeight": "bold", "titleX": 156, "titleY": 63, "titleAlign": "center", "titleBaseline": "alphabetic", "titleAngle": 0}},
       "y": {"field": "mean", "type": "quantitative", "scale": {"domain": [-0.05, 0.11], "nice": false, "zero": false},
             "axis": {"orient": "left", "values": [-0.05, 0, 0.05, 0.1], "format": ".2f", "title": "P", "titleFontSize": 26, "titleFontStyle": "italic", "titleFontWeight": "bold", "titleX": -62, "titleY": 124, "titleAngle": 270, "titleAlign": "left", "titleBaseline": "alphabetic"}},
       "detail": {"field": "series"},
       "color": {"condition": [{"test": "datum.series==='Study 3'", "value": "#8c8c8c"}, {"test": "datum.series==='Prog'||datum.series==='Old'", "value": "#ff0000"}], "value": "#000000"},
       "strokeDash": {"condition": {"test": "datum.series==='Study 3'||datum.series==='Prog'||datum.series==='Old'", "value": [6, 4]}, "value": [1, 0]}
     }},
    {"data": {"name": "e"}, "mark": {"type": "rule", "strokeWidth": 2},
     "encoding": {
       "x": {"field": "dpi", "type": "ordinal", "scale": {"type": "point", "domain": [0,7,15,22,30,36,43], "padding": 0.5},
             "axis": {"orient": "top", "domain": false, "ticks": false, "labels": false, "grid": false, "title": "Study 3", "titleFontSize": 25, "titleFontWeight": "normal", "titleX": 157, "titleY": -28, "titleAlign": "center", "titleBaseline": "alphabetic", "titleAngle": 0}},
       "y": {"field": "lo", "type": "quantitative", "scale": {"domain": [-0.05, 0.11], "nice": false, "zero": false}, "axis": null},
       "y2": {"field": "hi"},
       "color": {"condition": [{"test": "datum.series==='Study 3'", "value": "#8c8c8c"}, {"test": "datum.series==='Prog'||datum.series==='Old'", "value": "#ff0000"}], "value": "#000000"}
     }},
    {"data": {"name": "e"}, "mark": {"type": "tick", "thickness": 2, "size": 9},
     "encoding": {
       "x": {"field": "dpi", "type": "ordinal", "scale": {"type": "point", "domain": [0,7,15,22,30,36,43], "padding": 0.5}, "axis": null},
       "y": {"field": "lo", "type": "quantitative", "scale": {"domain": [-0.05, 0.11], "nice": false, "zero": false}, "axis": null},
       "color": {"condition": [{"test": "datum.series==='Study 3'", "value": "#8c8c8c"}, {"test": "datum.series==='Prog'||datum.series==='Old'", "value": "#ff0000"}], "value": "#000000"}
     }},
    {"data": {"name": "e"}, "mark": {"type": "tick", "thickness": 2, "size": 9},
     "encoding": {
       "x": {"field": "dpi", "type": "ordinal", "scale": {"type": "point", "domain": [0,7,15,22,30,36,43], "padding": 0.5}, "axis": null},
       "y": {"field": "hi", "type": "quantitative", "scale": {"domain": [-0.05, 0.11], "nice": false, "zero": false}, "axis": null},
       "color": {"condition": [{"test": "datum.series==='Study 3'", "value": "#8c8c8c"}, {"test": "datum.series==='Prog'||datum.series==='Old'", "value": "#ff0000"}], "value": "#000000"}
     }},
    {"data": {"name": "e"}, "mark": {"type": "point", "filled": true, "size": 64, "opacity": 1},
     "encoding": {
       "x": {"field": "dpi", "type": "ordinal", "scale": {"type": "point", "domain": [0,7,15,22,30,36,43], "padding": 0.5}, "axis": null},
       "y": {"field": "mean", "type": "quantitative", "scale": {"domain": [-0.05, 0.11], "nice": false, "zero": false}, "axis": null},
       "color": {"condition": [{"test": "datum.series==='Study 3'", "value": "#8c8c8c"}, {"test": "datum.series==='Prog'||datum.series==='Old'", "value": "#ff0000"}], "value": "#000000"},
       "shape": {"condition": {"test": "datum.series==='Study 2'||datum.series==='Veh'||datum.series==='Young'", "value": "circle"}, "value": "square"}
     }},
    {"data": {"name": "eA"}, "transform": [{"filter": {"field": "label", "equal": "Young"}}],
     "mark": {"type": "text", "fontSize": 23, "align": "right", "baseline": "alphabetic", "dx": 7},
     "encoding": {
       "x": {"field": "dpi", "type": "ordinal", "scale": {"type": "point", "domain": [0,7,15,22,30,36,43], "padding": 0.5}, "axis": null},
       "y": {"field": "v", "type": "quantitative", "scale": {"domain": [-0.05, 0.11], "nice": false, "zero": false},
             "axis": {"orient": "right", "domain": false, "ticks": false, "labels": false, "grid": false, "title": "e", "titleFontSize": 32, "titleFontWeight": "bold", "titleX": -346, "titleY": -20, "titleAlign": "left", "titleBaseline": "alphabetic", "titleAngle": 0}},
       "text": {"field": "label"},
       "color": {"condition": [{"test": "datum.series==='Study 3'", "value": "#8c8c8c"}, {"test": "datum.series==='Prog'||datum.series==='Old'", "value": "#ff0000"}], "value": "#000000"}
     }},
    {"data": {"name": "eA"}, "transform": [{"filter": {"field": "label", "equal": "Old"}}],
     "mark": {"type": "text", "fontSize": 23, "align": "left", "baseline": "alphabetic", "dx": 8},
     "encoding": {
       "x": {"field": "dpi", "type": "ordinal", "scale": {"type": "point", "domain": [0,7,15,22,30,36,43], "padding": 0.5}, "axis": null},
       "y": {"field": "v", "type": "quantitative", "scale": {"domain": [-0.05, 0.11], "nice": false, "zero": false},
             "axis": {"orient": "right", "domain": false, "ticks": false, "labels": false, "grid": false, "title": "LDA", "titleFontSize": 17, "titleFontStyle": "italic", "titleFontWeight": "bold", "titleX": -374, "titleY": 106, "titleAngle": 270, "titleAlign": "left", "titleBaseline": "alphabetic"}},
       "text": {"field": "label"},
       "color": {"condition": [{"test": "datum.series==='Study 3'", "value": "#8c8c8c"}, {"test": "datum.series==='Prog'||datum.series==='Old'", "value": "#ff0000"}], "value": "#000000"}
     }},
    {"data": {"name": "eA"}, "transform": [{"filter": {"field": "label", "oneOf": ["*", "***", "****"]}}],
     "mark": {"type": "text", "fontSize": 27, "fontWeight": "bold", "align": "center", "baseline": "alphabetic"},
     "encoding": {
       "x": {"field": "dpi", "type": "ordinal", "scale": {"type": "point", "domain": [0,7,15,22,30,36,43], "padding": 0.5}, "axis": null},
       "y": {"field": "v", "type": "quantitative", "scale": {"domain": [-0.05, 0.11], "nice": false, "zero": false}, "axis": null},
       "text": {"field": "label"},
       "color": {"condition": [{"test": "datum.series==='Study 3'", "value": "#8c8c8c"}, {"test": "datum.series==='Prog'||datum.series==='Old'", "value": "#ff0000"}], "value": "#000000"}
     }}
  ]
},
{
  "width": 312, "height": 208,
  "layer": [
    {"data": {"name": "f"}, "mark": {"type": "line", "strokeWidth": 2},
     "encoding": {
       "x": {"field": "dpi", "type": "ordinal", "scale": {"type": "point", "domain": [0,7,15,22,30,36,43], "padding": 0.5},
             "axis": {"orient": "bottom", "labelAngle": -45, "labelAlign": "right", "labelBaseline": "middle", "labelPadding": 4, "labelOverlap": false, "title": "dpi", "titleFontSize": 24, "titleFontWeight": "bold", "titleX": 156, "titleY": 63, "titleAlign": "center", "titleBaseline": "alphabetic", "titleAngle": 0}},
       "y": {"field": "mean", "type": "quantitative", "scale": {"domain": [0, 21], "nice": false, "zero": false},
             "axis": {"orient": "left", "values": [0, 5, 10, 15, 20], "title": "BBB score", "titleFontSize": 21, "titleFontWeight": "bold", "titleX": -42, "titleY": 102, "titleAngle": 270, "titleAlign": "center", "titleBaseline": "alphabetic"}},
       "detail": {"field": "series"},
       "color": {"condition": [{"test": "datum.series==='Study 3'", "value": "#8c8c8c"}, {"test": "datum.series==='Prog'||datum.series==='Old'", "value": "#ff0000"}], "value": "#000000"},
       "strokeDash": {"condition": {"test": "datum.series==='Study 3'||datum.series==='Prog'||datum.series==='Old'", "value": [6, 4]}, "value": [1, 0]}
     }},
    {"data": {"name": "f"}, "mark": {"type": "rule", "strokeWidth": 2},
     "encoding": {
       "x": {"field": "dpi", "type": "ordinal", "scale": {"type": "point", "domain": [0,7,15,22,30,36,43], "padding": 0.5},
             "axis": {"orient": "top", "domain": false, "ticks": false, "labels": false, "grid": false, "title": "Study 3", "titleFontSize": 25, "titleFontWeight": "normal", "titleX": 157, "titleY": -28, "titleAlign": "center", "titleBaseline": "alphabetic", "titleAngle": 0}},
       "y": {"field": "lo", "type": "quantitative", "scale": {"domain": [0, 21], "nice": false, "zero": false}, "axis": null},
       "y2": {"field": "hi"},
       "color": {"condition": [{"test": "datum.series==='Study 3'", "value": "#8c8c8c"}, {"test": "datum.series==='Prog'||datum.series==='Old'", "value": "#ff0000"}], "value": "#000000"}
     }},
    {"data": {"name": "f"}, "mark": {"type": "tick", "thickness": 2, "size": 9},
     "encoding": {
       "x": {"field": "dpi", "type": "ordinal", "scale": {"type": "point", "domain": [0,7,15,22,30,36,43], "padding": 0.5}, "axis": null},
       "y": {"field": "lo", "type": "quantitative", "scale": {"domain": [0, 21], "nice": false, "zero": false}, "axis": null},
       "color": {"condition": [{"test": "datum.series==='Study 3'", "value": "#8c8c8c"}, {"test": "datum.series==='Prog'||datum.series==='Old'", "value": "#ff0000"}], "value": "#000000"}
     }},
    {"data": {"name": "f"}, "mark": {"type": "tick", "thickness": 2, "size": 9},
     "encoding": {
       "x": {"field": "dpi", "type": "ordinal", "scale": {"type": "point", "domain": [0,7,15,22,30,36,43], "padding": 0.5}, "axis": null},
       "y": {"field": "hi", "type": "quantitative", "scale": {"domain": [0, 21], "nice": false, "zero": false}, "axis": null},
       "color": {"condition": [{"test": "datum.series==='Study 3'", "value": "#8c8c8c"}, {"test": "datum.series==='Prog'||datum.series==='Old'", "value": "#ff0000"}], "value": "#000000"}
     }},
    {"data": {"name": "f"}, "mark": {"type": "point", "filled": true, "size": 64, "opacity": 1},
     "encoding": {
       "x": {"field": "dpi", "type": "ordinal", "scale": {"type": "point", "domain": [0,7,15,22,30,36,43], "padding": 0.5}, "axis": null},
       "y": {"field": "mean", "type": "quantitative", "scale": {"domain": [0, 21], "nice": false, "zero": false}, "axis": null},
       "color": {"condition": [{"test": "datum.series==='Study 3'", "value": "#8c8c8c"}, {"test": "datum.series==='Prog'||datum.series==='Old'", "value": "#ff0000"}], "value": "#000000"},
       "shape": {"condition": {"test": "datum.series==='Study 2'||datum.series==='Veh'||datum.series==='Young'", "value": "circle"}, "value": "square"}
     }},
    {"data": {"name": "fA"}, "transform": [{"filter": {"field": "label", "equal": "Old"}}],
     "mark": {"type": "text", "fontSize": 23, "align": "left", "baseline": "alphabetic", "dx": -3},
     "encoding": {
       "x": {"field": "dpi", "type": "ordinal", "scale": {"type": "point", "domain": [0,7,15,22,30,36,43], "padding": 0.5}, "axis": null},
       "y": {"field": "v", "type": "quantitative", "scale": {"domain": [0, 21], "nice": false, "zero": false},
             "axis": {"orient": "right", "domain": false, "ticks": false, "labels": false, "grid": false, "title": "f", "titleFontSize": 32, "titleFontWeight": "bold", "titleX": -347, "titleY": -21, "titleAlign": "left", "titleBaseline": "alphabetic", "titleAngle": 0}},
       "text": {"field": "label"},
       "color": {"condition": [{"test": "datum.series==='Study 3'", "value": "#8c8c8c"}, {"test": "datum.series==='Prog'||datum.series==='Old'", "value": "#ff0000"}], "value": "#000000"}
     }},
    {"data": {"name": "fA"}, "transform": [{"filter": {"field": "label", "equal": "Young"}}],
     "mark": {"type": "text", "fontSize": 23, "align": "right", "baseline": "alphabetic", "dx": 13},
     "encoding": {
       "x": {"field": "dpi", "type": "ordinal", "scale": {"type": "point", "domain": [0,7,15,22,30,36,43], "padding": 0.5}, "axis": null},
       "y": {"field": "v", "type": "quantitative", "scale": {"domain": [0, 21], "nice": false, "zero": false}, "axis": null},
       "text": {"field": "label"},
       "color": {"condition": [{"test": "datum.series==='Study 3'", "value": "#8c8c8c"}, {"test": "datum.series==='Prog'||datum.series==='Old'", "value": "#ff0000"}], "value": "#000000"}
     }}
  ]
}
]
}
